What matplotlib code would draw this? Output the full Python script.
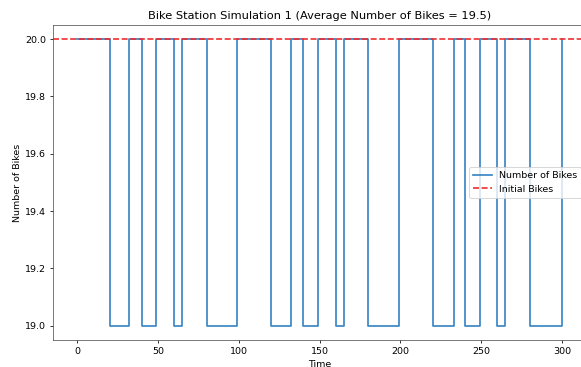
import numpy as np
import matplotlib
matplotlib.use("Agg")
import matplotlib.pyplot as plt

# Station occupancy over the simulated period, stored as change events
drop_times = [20, 40, 60, 80, 120, 140, 160, 180, 220, 240, 260, 280]
rise_times = [32, 49, 65, 99, 132, 149, 165, 199, 233, 249, 265, 300]
full_count = 20
low_count = 19
initial_bikes = 20
t_start = 0
average_bikes = 19.5

times = [t_start]
bikes = [full_count]
for d, r in zip(drop_times, rise_times):
    times += [d, r]
    bikes += [low_count, full_count]

dpi = 68.6
fig = plt.figure(figsize=(581.2 / dpi, 367.2 / dpi), dpi=dpi)
ax = fig.add_axes([53 / 581, 27 / 367, 533 / 581, 315 / 367])

ax.plot(times, bikes, drawstyle="steps-post", color="#3a87c4", linewidth=1.8,
        label="Number of Bikes")
ax.axhline(initial_bikes, color="#f0282a", linestyle="--", linewidth=1.7,
           label="Initial Bikes")

for side in ax.spines.values():
    side.set_color("#555555")

ax.set_title(f"Bike Station Simulation 1 (Average Number of Bikes = {average_bikes})")
ax.set_xlabel("Time")
ax.set_ylabel("Number of Bikes")
ax.legend(loc="center right")

fig.savefig("out.png", dpi=dpi)
